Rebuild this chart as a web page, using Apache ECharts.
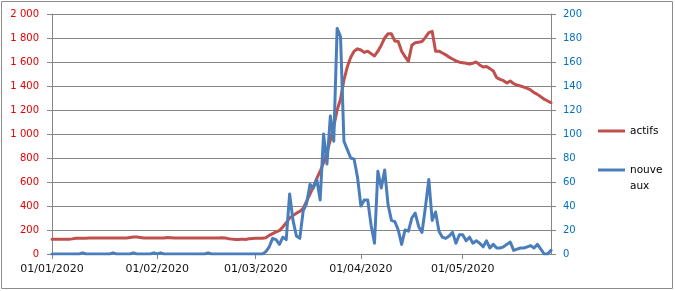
<!DOCTYPE html>
<html>
<head>
<meta charset="utf-8">
<script src="https://cdn.jsdelivr.net/npm/echarts@6/dist/echarts.min.js"></script>
<style>
html,body{margin:0;padding:0;background:#fff;}
#c{width:675px;height:291px;}
</style>
</head>
<body>
<div id="c"></div>
<script>
// ---- data ----
const startDate = [2020, 0, 1];   // 01/01/2020
const dayCount = 148;             // up to 27/05/2020
const seriesNames = ['actifs', 'nouveaux'];
const leftTicks = [0, 200, 400, 600, 800, 1000, 1200, 1400, 1600, 1800, 2000];
const rightTicks = [0, 20, 40, 60, 80, 100, 120, 140, 160, 180, 200];

const actifs = [
  122,122,122,122,122,123,126,
  132,132,132,132,133,133,133,133,133,133,133,133,133,133,133,134,
  138,142,142,138,
  133,133,133,133,133,133,134,
  137,136,
  133,133,133,133,133,133,133,133,133,133,133,133,133,134,136,133,
  128,124,120,120,124,121,127,130,131,131,131,135,
  155,170,185,195,225,260,300,320,340,355,
  380,440,500,560,630,690,760,850,950,1060,
  1200,1290,1450,1560,1640,1690,1710,1700,1680,1690,
  1670,1650,1690,1740,1800,1835,1835,1775,1770,1690,
  1645,1605,1740,1760,1765,1770,1805,1845,1855,1690,
  1690,1675,1660,1640,1625,1610,1598,1594,1590,1583,
  1590,1600,1575,1558,1562,1545,1525,1470,1455,1444,
  1425,1442,1420,1408,1400,1390,1380,1367,1345,1330,
  1310,1290,1275,1262
];

const nouveaux = [
  0,0,0,0,0,0,0,0,0,1,
  0,0,0,0,0,0,0,0,1,0,
  0,0,0,0,1,0,0,0,0,0,
  1,0,1,0,0,0,0,0,0,0,
  0,0,0,0,0,0,1,0,0,0,
  0,0,0,0,0,0,0,0,0,0,
  0,0,
  0,2,6,13,12,8,14,12,50,28,
  15,13,36,42,58,55,62,45,100,75,
  115,94,188,181,94,87,80,79,64,40,
  45,45,24,9,69,55,70,41,28,27,
  20,8,20,19,30,34,23,18,39,62,
  28,35,19,14,13,15,18,9,16,16,
  11,14,9,11,9,6,11,5,8,5,
  5,6,8,10,3,4,5,5,6,7,
  5,8,4,0,0,3
];

// ---- categories (dd/mm/yyyy) ----
const categories = [];
for (let i = 0; i < dayCount; i++) {
  const d = new Date(Date.UTC(startDate[0], startDate[1], startDate[2] + i));
  const dd = String(d.getUTCDate()).padStart(2, '0');
  const mm = String(d.getUTCMonth() + 1).padStart(2, '0');
  categories.push(dd + '/' + mm + '/' + d.getUTCFullYear());
}

function fmtThousands(v) {
  return String(v).replace(/\B(?=(\d{3})+(?!\d))/g, ' ');
}
const isMonthStart = (idx, val) => String(val).startsWith('01/');

const gridColor = '#868686';
const chart = echarts.init(document.getElementById('c'), null, {renderer: 'canvas'});
chart.setOption({
  animation: false,
  backgroundColor: '#fff',
  textStyle: {fontFamily: 'DejaVu Sans'},
  graphic: [{
    type: 'rect', silent: true,
    shape: {x: 1.5, y: 1.5, width: 671, height: 287},
    style: {fill: null, stroke: '#8c8c8c', lineWidth: 1}
  }],
  grid: {left: 52, right: 124, top: 14, bottom: 37},
  legend: [{
    data: [seriesNames[0]],
    orient: 'vertical', left: 598, top: 124, padding: 0,
    icon: 'rect', itemWidth: 27, itemHeight: 3, itemGap: 0,
    textStyle: {fontSize: 10.5, color: '#000', fontFamily: 'DejaVu Sans', lineHeight: 14}
  }, {
    data: [seriesNames[1]],
    orient: 'vertical', left: 598, top: 146, padding: 0,
    icon: 'rect', itemWidth: 27, itemHeight: 3, itemGap: 0,
    formatter: n => '\nnouve\naux',
    textStyle: {fontSize: 10.5, color: '#000', fontFamily: 'DejaVu Sans', lineHeight: 16}
  }],
  xAxis: {
    type: 'category',
    data: categories,
    boundaryGap: false,
    axisLine: {lineStyle: {color: gridColor, width: 1}},
    axisTick: {show: true, interval: isMonthStart, length: 5, lineStyle: {color: gridColor}},
    axisLabel: {interval: isMonthStart, color: '#111', fontSize: 11, margin: 10, fontFamily: 'DejaVu Sans'},
    splitLine: {show: false}
  },
  yAxis: [{
    type: 'value', position: 'left',
    min: leftTicks[0], max: leftTicks[leftTicks.length - 1], interval: leftTicks[1] - leftTicks[0],
    axisLine: {show: true, lineStyle: {color: gridColor}},
    axisTick: {show: true, length: 5, lineStyle: {color: gridColor}},
    axisLabel: {color: '#e00000', fontSize: 10, margin: 13, formatter: fmtThousands, fontFamily: 'DejaVu Sans'},
    splitLine: {show: true, lineStyle: {color: gridColor, width: 1}}
  }, {
    type: 'value', position: 'right',
    min: rightTicks[0], max: rightTicks[rightTicks.length - 1], interval: rightTicks[1] - rightTicks[0],
    axisLine: {show: true, lineStyle: {color: gridColor}},
    axisTick: {show: true, length: 5, lineStyle: {color: gridColor}},
    axisLabel: {color: '#0070c0', fontSize: 10, margin: 12, fontFamily: 'DejaVu Sans'},
    splitLine: {show: false}
  }],
  series: [{
    name: seriesNames[0], type: 'line', yAxisIndex: 0,
    data: actifs, showSymbol: false, symbol: 'none',
    color: '#c0504d',
    lineStyle: {width: 3, color: '#c0504d', cap: 'round', join: 'round'}
  }, {
    name: seriesNames[1], type: 'line', yAxisIndex: 1,
    data: nouveaux, showSymbol: false, symbol: 'none',
    color: '#4a7ebb',
    lineStyle: {width: 3, color: '#4a7ebb', cap: 'round', join: 'round'}
  }]
});
</script>
</body>
</html>
